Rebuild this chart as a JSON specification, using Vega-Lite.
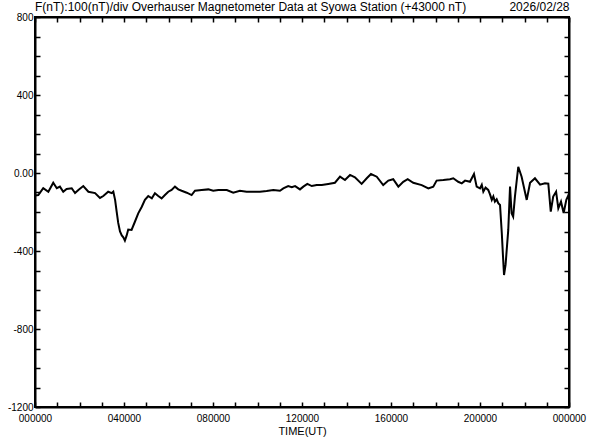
{
  "$schema": "https://vega.github.io/schema/vega-lite/v6.json",
  "width": 534,
  "height": 390,
  "autosize": {"type": "none"},
  "padding": {"left": 35, "top": 17, "right": 23, "bottom": 33},
  "background": "white",
  "title": {
    "text": "F(nT):100(nT)/div  Overhauser Magnetometer Data at Syowa Station (+43000 nT)",
    "anchor": "start",
    "frame": "group",
    "font": "Liberation Sans",
    "fontSize": 12,
    "fontWeight": "normal",
    "color": "#000",
    "offset": -14
  },
  "config": {
    "view": {"stroke": "black", "strokeWidth": 2},
    "axis": {
      "domainColor": "black",
      "domainWidth": 2,
      "tickColor": "black",
      "tickWidth": 1.5,
      "labelFont": "Liberation Sans",
      "labelFontSize": 10,
      "labelColor": "#000",
      "titleFont": "Liberation Sans",
      "titleFontWeight": "normal",
      "titleFontSize": 12,
      "titleColor": "#000",
      "grid": false,
      "labelFlush": false,
      "labelOverlap": false,
      "labelBound": false
    }
  },
  "data": {
    "values": [
      {"t": 0.00, "F": -115}, {"t": 0.15, "F": -113}, {"t": 0.37, "F": -78}, {"t": 0.60, "F": -96},
      {"t": 0.82, "F": -50}, {"t": 0.98, "F": -78}, {"t": 1.12, "F": -70}, {"t": 1.27, "F": -96},
      {"t": 1.42, "F": -82}, {"t": 1.65, "F": -78}, {"t": 1.80, "F": -103}, {"t": 1.95, "F": -87},
      {"t": 2.17, "F": -67}, {"t": 2.40, "F": -96}, {"t": 2.70, "F": -103}, {"t": 2.92, "F": -128},
      {"t": 3.07, "F": -118}, {"t": 3.29, "F": -96}, {"t": 3.45, "F": -103}, {"t": 3.52, "F": -96},
      {"t": 3.60, "F": -138}, {"t": 3.67, "F": -198}, {"t": 3.74, "F": -256}, {"t": 3.82, "F": -300},
      {"t": 3.90, "F": -320}, {"t": 3.97, "F": -330}, {"t": 4.04, "F": -347}, {"t": 4.12, "F": -320},
      {"t": 4.19, "F": -290}, {"t": 4.34, "F": -292}, {"t": 4.49, "F": -250}, {"t": 4.64, "F": -207},
      {"t": 4.80, "F": -173}, {"t": 4.94, "F": -138}, {"t": 5.09, "F": -118}, {"t": 5.25, "F": -130},
      {"t": 5.39, "F": -104}, {"t": 5.54, "F": -118}, {"t": 5.69, "F": -130}, {"t": 5.84, "F": -113},
      {"t": 5.99, "F": -96}, {"t": 6.14, "F": -87}, {"t": 6.29, "F": -70}, {"t": 6.44, "F": -84},
      {"t": 6.59, "F": -91}, {"t": 6.82, "F": -101}, {"t": 7.04, "F": -113}, {"t": 7.19, "F": -91},
      {"t": 7.49, "F": -87}, {"t": 7.79, "F": -84}, {"t": 8.01, "F": -91}, {"t": 8.24, "F": -87},
      {"t": 8.46, "F": -87}, {"t": 8.62, "F": -87}, {"t": 8.91, "F": -101}, {"t": 9.21, "F": -91},
      {"t": 9.51, "F": -96}, {"t": 9.81, "F": -96}, {"t": 10.11, "F": -96}, {"t": 10.41, "F": -92},
      {"t": 10.71, "F": -87}, {"t": 11.01, "F": -91}, {"t": 11.16, "F": -79}, {"t": 11.38, "F": -67},
      {"t": 11.54, "F": -73}, {"t": 11.69, "F": -67}, {"t": 11.91, "F": -84}, {"t": 12.06, "F": -70},
      {"t": 12.24, "F": -56}, {"t": 12.44, "F": -67}, {"t": 12.66, "F": -62}, {"t": 12.89, "F": -62},
      {"t": 13.18, "F": -56}, {"t": 13.48, "F": -50}, {"t": 13.71, "F": -19}, {"t": 13.93, "F": -36},
      {"t": 14.16, "F": -10}, {"t": 14.38, "F": -22}, {"t": 14.68, "F": -56}, {"t": 14.91, "F": -27},
      {"t": 15.10, "F": -5}, {"t": 15.36, "F": -19}, {"t": 15.65, "F": -62}, {"t": 15.88, "F": -39},
      {"t": 16.10, "F": -32}, {"t": 16.33, "F": -70}, {"t": 16.55, "F": -45}, {"t": 16.75, "F": -32},
      {"t": 17.00, "F": -50}, {"t": 17.38, "F": -62}, {"t": 17.68, "F": -79}, {"t": 17.90, "F": -70},
      {"t": 18.05, "F": -39}, {"t": 18.35, "F": -36}, {"t": 18.65, "F": -32}, {"t": 18.80, "F": -27},
      {"t": 19.02, "F": -45}, {"t": 19.18, "F": -53}, {"t": 19.33, "F": -39}, {"t": 19.55, "F": -45},
      {"t": 19.73, "F": -5}, {"t": 19.85, "F": -70}, {"t": 20.00, "F": -79}, {"t": 20.08, "F": -60},
      {"t": 20.15, "F": -96}, {"t": 20.25, "F": -75}, {"t": 20.37, "F": -87}, {"t": 20.45, "F": -110},
      {"t": 20.53, "F": -138}, {"t": 20.60, "F": -120}, {"t": 20.67, "F": -147}, {"t": 20.75, "F": -135},
      {"t": 20.82, "F": -155}, {"t": 20.90, "F": -164}, {"t": 20.98, "F": -309}, {"t": 21.03, "F": -420},
      {"t": 21.08, "F": -523}, {"t": 21.15, "F": -470}, {"t": 21.20, "F": -395}, {"t": 21.27, "F": -292},
      {"t": 21.35, "F": -70}, {"t": 21.42, "F": -207}, {"t": 21.49, "F": -224}, {"t": 21.57, "F": -121},
      {"t": 21.72, "F": 32}, {"t": 21.87, "F": -19}, {"t": 22.10, "F": -138}, {"t": 22.25, "F": -50},
      {"t": 22.47, "F": -27}, {"t": 22.70, "F": -60}, {"t": 22.92, "F": -53}, {"t": 23.07, "F": -55},
      {"t": 23.18, "F": -198}, {"t": 23.29, "F": -121}, {"t": 23.42, "F": -96}, {"t": 23.52, "F": -181},
      {"t": 23.64, "F": -147}, {"t": 23.76, "F": -205}, {"t": 23.88, "F": -138}, {"t": 23.98, "F": -113},
      {"t": 24.00, "F": -105}
    ]
  },
  "layer": [
    {
      "mark": {"type": "line", "color": "black", "strokeWidth": 2},
      "encoding": {
        "x": {
          "field": "t", "type": "quantitative",
          "scale": {"domain": [0, 24], "nice": false},
          "axis": {
            "orient": "bottom",
            "values": [0,1,2,3,4,5,6,7,8,9,10,11,12,13,14,15,16,17,18,19,20,21,22,23,24],
            "labelExpr": "datum.value % 4 == 0 ? (datum.value == 24 ? '000000' : (datum.value < 10 ? '0' : '') + datum.value + '0000') : ''",
            "tickSize": -5,
            "labelPadding": 11,
            "title": "TIME(UT)",
            "titleFontSize": 11,
            "titlePadding": 2
          }
        },
        "y": {
          "field": "F", "type": "quantitative",
          "scale": {"domain": [-1200, 800], "nice": false},
          "axis": {
            "values": [-1200,-1100,-1000,-900,-800,-700,-600,-500,-400,-300,-200,-100,0,100,200,300,400,500,600,700,800],
            "labelExpr": "datum.value % 400 == 0 ? (datum.value == 0 ? '0.00' : '' + datum.value) : ''",
            "tickSize": -5,
            "labelPadding": 7,
            "title": null
          }
        }
      }
    },
    {
      "mark": {"type": "line", "opacity": 0},
      "encoding": {
        "x": {
          "field": "t", "type": "quantitative",
          "scale": {"domain": [0, 24], "nice": false},
          "axis": {
            "orient": "top",
            "values": [0,1,2,3,4,5,6,7,8,9,10,11,12,13,14,15,16,17,18,19,20,21,22,23,24],
            "labels": false,
            "tickSize": -5,
            "title": "2026/02/28",
            "titleAnchor": "end",
            "titlePadding": 3
          }
        },
        "y": {
          "field": "F", "type": "quantitative",
          "scale": {"domain": [-1200, 800], "nice": false},
          "axis": {
            "orient": "right",
            "values": [-1200,-1100,-1000,-900,-800,-700,-600,-500,-400,-300,-200,-100,0,100,200,300,400,500,600,700,800],
            "labels": false,
            "tickSize": -5,
            "title": null
          }
        }
      }
    }
  ],
  "resolve": {"axis": {"x": "independent", "y": "independent"}}
}
